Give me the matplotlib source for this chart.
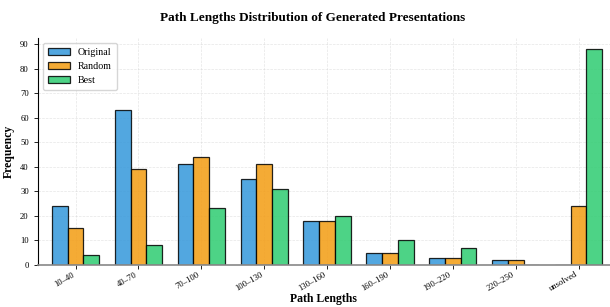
import matplotlib
matplotlib.use("Agg")
import matplotlib.pyplot as plt
import numpy as np

categories = ["10–40", "40–70", "70–100", "100–130", "130–160", "160–190", "190–220", "220–250", "unsolved"]
original = [24, 63, 41, 35, 18, 5, 3, 2, 0]
random_ = [15, 39, 44, 41, 18, 5, 3, 2, 24]
best = [4, 8, 23, 31, 20, 10, 7, 0, 88]

series = [("Original", original, "#3498db"), ("Random", random_, "#f39c12"), ("Best", best, "#2ecc71")]

plt.rcParams['font.family'] = ['Liberation Serif', 'DejaVu Serif']

fig = plt.figure(figsize=(6.1, 3.07), dpi=100)
ax = fig.add_axes([0.062, 0.137, 0.938, 0.739])

x = np.arange(len(categories))
w = 0.25
for i, (name, vals, col) in enumerate(series):
    ax.bar(x + (i - 1) * w, vals, w, label=name, color=col, alpha=0.85,
           edgecolor="black", linewidth=0.9)

ax.set_xlim(-0.6, 8.5)
ax.set_ylim(0, max(best) * 1.05)
ax.set_yticks(range(0, 91, 10))
ax.set_xticks(x)
ax.set_xticklabels(categories, rotation=30, ha="right", fontsize=6.2)
ax.tick_params(axis='y', labelsize=6.2, length=3, width=0.6)
ax.tick_params(axis='x', length=3, width=0.6, pad=1)
ax.grid(True, linestyle="--", linewidth=0.5, color="#cccccc", alpha=0.5)
ax.set_axisbelow(True)
for s in ["top", "right"]:
    ax.spines[s].set_visible(False)
ax.spines["left"].set_linewidth(0.8)
ax.spines["bottom"].set_linewidth(1.2)
ax.spines["bottom"].set_color("#888888")

ax.set_xlabel("Path Lengths", fontsize=8.5, fontweight="bold", labelpad=0)
ax.set_ylabel("Frequency", fontsize=8.5, fontweight="bold", labelpad=4)
fig.suptitle("Path Lengths Distribution of Generated Presentations", fontsize=9.5,
             fontweight="bold", x=0.512, y=0.962)
ax.legend(loc="upper left", fontsize=7.2, frameon=True, handlelength=2.2,
          borderpad=0.5, labelspacing=0.5)

fig.savefig("out.png", dpi=100)
